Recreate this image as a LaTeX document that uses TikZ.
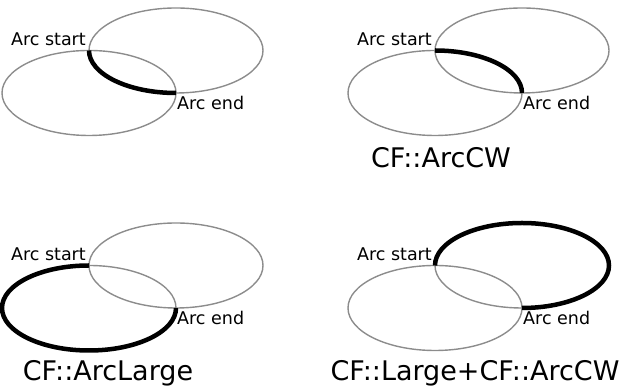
\documentclass[tikz,border=0pt]{standalone}
\usepackage{fontspec}
\setmainfont{DejaVu Sans}
\usetikzlibrary{calc}
\begin{document}
\begin{tikzpicture}[x=1pt,y=1pt,
  ell/.style={draw=black!45,line width=1.4pt},
  thickarc/.style={draw=black,line width=4.5pt},
  small/.style={inner sep=0pt,font=\fontsize{17.5}{20}\selectfont},
  big/.style={inner sep=0pt,font=\fontsize{27}{32}\selectfont,anchor=base}]
\useasboundingbox (0,0) rectangle (621,387);
\def\ra{87}\def\rb{42.5}
% panel anchors (arc start points)
\coordinate (S1) at (89,336.5);
\coordinate (S2) at (435,336.5);
\coordinate (S3) at (89,121.5);
\coordinate (S4) at (435,121.5);
\foreach \i in {1,2,3,4}{
  \coordinate (U\i) at ($(S\i)+(\ra,0)$);
  \coordinate (L\i) at ($(S\i)+(0,-\rb)$);
  \coordinate (E\i) at ($(S\i)+(\ra,-\rb)$);
  \draw[ell] (U\i) ellipse[x radius=\ra,y radius=\rb];
  \draw[ell] (L\i) ellipse[x radius=\ra,y radius=\rb];
}
% thick arcs
\draw[thickarc] (S1) arc[start angle=180,end angle=270,x radius=\ra,y radius=\rb];
\draw[thickarc] (S2) arc[start angle=90,end angle=0,x radius=\ra,y radius=\rb];
\draw[thickarc] (S3) arc[start angle=90,end angle=360,x radius=\ra,y radius=\rb];
\draw[thickarc] (S4) arc[start angle=180,end angle=-90,x radius=\ra,y radius=\rb];
% labels
\foreach \i in {1,2,3,4}{
  \node[small,anchor=base east] (st\i) at ($(S\i)+(-3,5)$) {Arc start};
  \node[small,anchor=base west] (en\i) at ($(E\i)+(1,-17)$) {Arc end};
}
\node[big] (t2) at (441,219) {CF::ArcCW};
\node[big] (t3) at (108,6) {CF::ArcLarge};
\node[big] (t4) at (475,6) {CF::Large+CF::ArcCW};
\end{tikzpicture}
\end{document}
